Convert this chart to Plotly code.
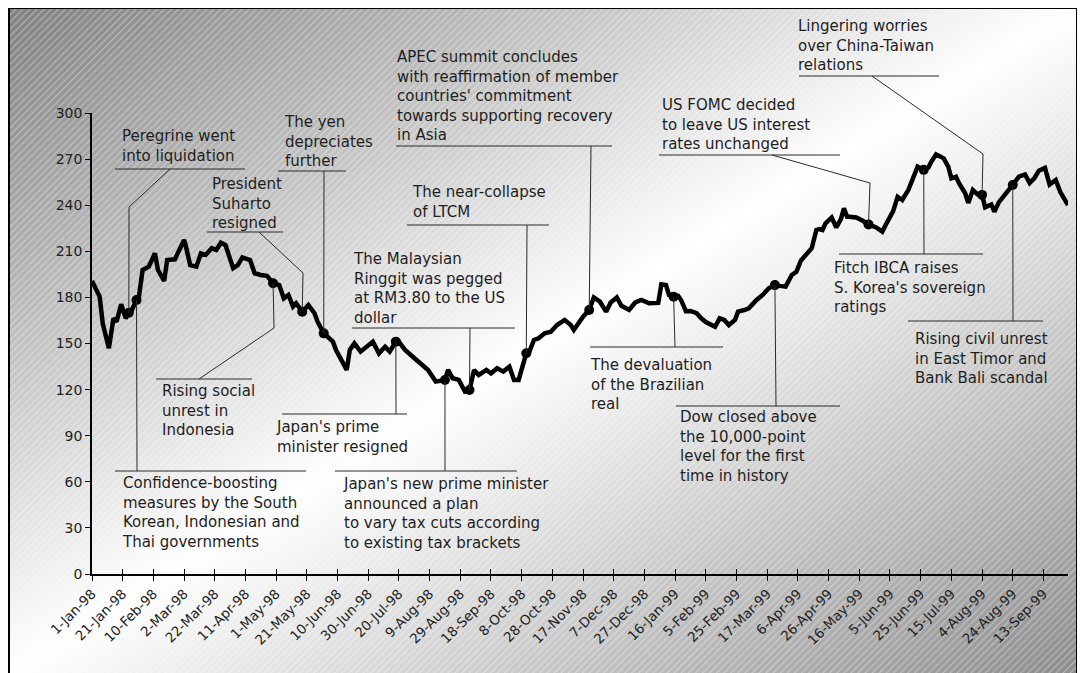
import base64
import plotly.graph_objects as go

# ---------------- data ----------------
# x = days since 1-Jan-98
day_offsets = [0, 5, 7, 11, 14, 16, 19, 22, 24, 26, 29, 30, 33, 37, 41, 43, 47, 49, 54, 57,
               60, 61, 64, 68, 71, 74, 78, 81, 84, 87, 92, 95, 98, 103, 106, 110, 114, 118, 122, 125,
               128, 131, 133, 137, 141, 145, 147, 151, 154, 157, 159, 166, 168, 171, 175, 179, 183, 187, 191, 194,
               198, 200, 204, 209, 214, 219, 224, 230, 232, 235, 239, 243, 246, 249, 252, 257, 260, 264, 268, 272,
               275, 278, 283, 285, 288, 291, 295, 299, 303, 308, 312, 314, 320, 324, 327, 331, 335, 338, 342, 345,
               350, 354, 358, 363, 369, 371, 374, 376, 379, 382, 384, 387, 390, 394, 397, 400, 406, 409, 412, 415,
               419, 421, 425, 428, 433, 437, 441, 445, 448, 452, 456, 459, 462, 465, 469, 472, 474, 476, 478, 482,
               485, 488, 490, 492, 498, 502, 506, 511, 515, 518, 522, 525, 528, 532, 535, 538, 542, 545, 547, 550,
               553, 555, 558, 560, 563, 565, 569, 571, 574, 577, 580, 582, 586, 588, 591, 594, 598, 600, 604, 608,
               611, 614, 617, 621, 624, 628, 631, 636]
index_values = [190.7, 180.5, 163.0, 146.9, 166.4, 164.2, 175.5, 166.4, 170.0, 171.8, 178.3, 176.4, 197.8, 200.0, 208.7, 197.8, 190.7, 204.3, 204.8, 212.0,
                217.4, 214.0, 201.0, 200.0, 208.7, 207.6, 212.0, 210.9, 215.6, 214.0, 199.0, 201.0, 206.0, 204.3, 195.7, 194.6, 194.0, 189.2, 188.0, 179.4,
                181.6, 174.0, 176.2, 170.7, 175.0, 169.7, 164.2, 156.6, 153.4, 151.2, 145.8, 132.8, 145.8, 150.1, 144.7, 147.9, 151.2, 143.6, 147.9, 144.7,
                151.2, 151.0, 145.8, 141.4, 137.1, 132.8, 125.2, 126.3, 132.8, 127.4, 126.3, 118.7, 119.7, 132.8, 129.5, 132.8, 130.6, 133.9, 131.7, 134.9,
                126.3, 126.3, 143.6, 144.7, 152.3, 153.4, 156.6, 157.7, 162.0, 165.3, 162.0, 158.8, 167.5, 171.8, 180.0, 177.2, 170.7, 176.7, 180.0, 174.5,
                171.8, 176.7, 178.3, 176.2, 176.4, 188.5, 188.0, 181.6, 180.5, 181.0, 178.0, 171.0, 171.2, 169.7, 166.4, 164.0, 160.9, 166.4, 165.3, 162.0,
                165.3, 170.7, 171.8, 172.9, 178.3, 181.6, 185.9, 188.0, 187.5, 187.0, 194.6, 196.7, 204.0, 207.5, 212.0, 223.9, 224.5, 223.9, 228.2, 232.0,
                225.5, 231.0, 238.0, 232.6, 232.0, 230.0, 227.5, 225.5, 222.8, 228.7, 236.0, 245.5, 243.4, 250.0, 258.6, 265.1, 263.0, 264.5, 268.4, 273.0,
                271.6, 270.5, 265.0, 257.5, 258.5, 254.3, 247.8, 241.5, 249.9, 247.0, 246.7, 238.6, 240.5, 235.8, 242.0, 245.5, 251.0, 253.2, 258.6, 260.0,
                254.5, 257.5, 262.4, 264.3, 253.5, 256.4, 248.5, 240.1]

tick_days = [0, 20, 40, 60, 80, 100, 120, 140, 160, 180, 200, 220, 240, 260, 280, 300,
             320, 340, 360, 380, 400, 420, 440, 460, 480, 500, 520, 540, 560, 580, 600, 620]
tick_labels = ["1-Jan-98", "21-Jan-98", "10-Feb-98", "2-Mar-98", "22-Mar-98", "11-Apr-98", "1-May-98",
               "21-May-98", "10-Jun-98", "30-Jun-98", "20-Jul-98", "9-Aug-98", "29-Aug-98", "18-Sep-98",
               "8-Oct-98", "28-Oct-98", "17-Nov-98", "7-Dec-98", "27-Dec-98", "16-Jan-99", "5-Feb-99",
               "25-Feb-99", "17-Mar-99", "6-Apr-99", "26-Apr-99", "16-May-99", "5-Jun-99", "25-Jun-99",
               "15-Jul-99", "4-Aug-99", "24-Aug-99", "13-Sep-99"]

# events: day offset and index value at the marker
event_days = [24, 29, 118, 137, 151, 198, 230, 246, 283, 324, 379, 445, 506, 542, 580, 600]
event_values = [170.0, 178.3, 189.2, 170.7, 156.6, 151.2, 126.3, 119.7, 143.6, 171.8, 180.5, 188.0, 227.5, 263.0, 246.7, 253.2]
event_texts = [
    "Peregrine went<br>into liquidation",
    "Confidence-boosting<br>measures by the South<br>Korean, Indonesian and<br>Thai governments",
    "Rising social<br>unrest in<br>Indonesia",
    "President<br>Suharto<br>resigned",
    "The yen<br>depreciates<br>further",
    "Japan's prime<br>minister resigned",
    "Japan's new prime minister<br>announced a plan<br>to vary tax cuts according<br>to existing tax brackets",
    "The Malaysian<br>Ringgit was pegged<br>at RM3.80 to the US<br>dollar",
    "The near-collapse<br>of LTCM",
    "APEC summit concludes<br>with reaffirmation of member<br>countries' commitment<br>towards supporting recovery<br>in Asia",
    "The devaluation<br>of the Brazilian<br>real",
    "Dow closed above<br>the 10,000-point<br>level for the first<br>time in history",
    "US FOMC decided<br>to leave US interest<br>rates unchanged",
    "Fitch IBCA raises<br>S. Korea's sovereign<br>ratings",
    "Lingering worries<br>over China-Taiwan<br>relations",
    "Rising civil unrest<br>in East Timor and<br>Bank Bali scandal",
]

# ---------------- layout geometry ----------------
# the page places the figure 8px in from the window corner; positions below are window pixels
OFF = 8
W, H = 1085 - OFF, 673 - OFF
AX_X0, AX_X1, AX_Y0, AX_Y1 = 92, 1068, 574, 113   # window pixels of the plot area
L = AX_X0 - OFF
R = W - (AX_X1 - OFF)
T = AX_Y1 - OFF
B = H - (AX_Y0 - OFF)
PW, PH = W - L - R, H - T - B
X_MAX, Y_MAX = 636, 300


def px_x(px):
    return (px - OFF - L) / PW


def px_y(py):
    return (H - B - (py - OFF)) / PH


# label placement: (left px, block-centre px, underline y, underline x0, x1, leader bend points)
label_layout = [
    (121, 146, 169, 115, 245, [(170, 169), (129, 207)]),
    (121, 512, 471, 115, 306, [(137, 471)]),
    (161, 410, 379, 156, 252, [(199, 379), (274, 328)]),
    (211, 203, 232, 207, 283, [(259, 232), (303, 273)]),
    (283, 141, 171, 278, 346, [(324, 171)]),
    (275, 437, 414, 282, 407, [(396, 414)]),
    (342, 513, 471, 335, 517, [(445, 471)]),
    (352, 288, 328, 352, 515, [(470, 328)]),
    (411, 202, 225, 407, 549, [(527, 225)]),
    (396, 96, 146, 396, 612, [(591, 146)]),
    (589, 384, 347, 590, 723, [(675, 347)]),
    (679, 446, 406, 676, 840, [(776, 406)]),
    (661, 124, 155, 659, 840, [(772, 155), (870, 183)]),
    (833, 287, 254, 839, 983, [(924, 254)]),
    (797, 46, 76, 799, 939, [(872, 76), (983, 154)]),
    (914, 358, 321, 908, 1043, [(1013, 321)]),
]

FONT = "DejaVu Sans, Verdana, sans-serif"
TXT = "#1e1e1e"

# ---------------- background (gradient + hatching) ----------------
FX0, FY0, FX1, FY1 = 9, 8, 1077, 673
bw, bh = FX1 - FX0, FY1 - FY0
svg = f'''<svg xmlns="http://www.w3.org/2000/svg" width="{bw}" height="{bh}" viewBox="0 0 {bw} {bh}">
<defs>
<linearGradient id="g" x1="0" y1="0" x2="1" y2="1">
<stop offset="0" stop-color="#808080"/>
<stop offset="0.5" stop-color="#ffffff"/>
<stop offset="1" stop-color="#8c8c8c"/>
</linearGradient>
<pattern id="h" width="5" height="5" patternUnits="userSpaceOnUse" patternTransform="rotate(45)">
<rect x="0" y="0" width="1.2" height="5" fill="#ffffff" fill-opacity="0.35"/>
</pattern>
</defs>
<rect width="{bw}" height="{bh}" fill="url(#g)"/>
<rect width="{bw}" height="{bh}" fill="url(#h)"/>
</svg>'''
bg_src = "data:image/svg+xml;base64," + base64.b64encode(svg.encode()).decode()

fig = go.Figure()
fig.add_trace(go.Scatter(x=day_offsets, y=index_values, mode="lines",
                         line=dict(color="black", width=4.5), hoverinfo="skip", showlegend=False))
fig.add_trace(go.Scatter(x=event_days, y=event_values, mode="markers",
                         marker=dict(color="black", size=10), hoverinfo="skip", showlegend=False))
# invisible trace to carry the inside-tick overlay axis
fig.add_trace(go.Scatter(x=[0], y=[None], xaxis="x2", mode="lines", showlegend=False, hoverinfo="skip"))

shapes = []
annotations = []
lc = dict(color="#2a2a2a", width=1)
for i, (lx, my, uy, ux0, ux1, bends) in enumerate(label_layout):
    annotations.append(dict(text=event_texts[i], xref="paper", yref="paper",
                            x=px_x(lx), y=px_y(my), xanchor="left", yanchor="middle",
                            align="left", showarrow=False, borderpad=0,
                            font=dict(family=FONT, size=15, color=TXT)))
    shapes.append(dict(type="line", xref="paper", yref="paper",
                       x0=px_x(ux0), x1=px_x(ux1), y0=px_y(uy), y1=px_y(uy), line=lc))
    pts = [(px_x(a), px_y(b)) for a, b in bends]
    pts.append((event_days[i] / X_MAX, event_values[i] / Y_MAX))
    for (xa, ya), (xb, yb) in zip(pts[:-1], pts[1:]):
        shapes.append(dict(type="line", xref="paper", yref="paper",
                           x0=xa, y0=ya, x1=xb, y1=yb, line=lc))

# outer frame
frame = dict(color="black", width=2)
shapes.append(dict(type="line", xref="paper", yref="paper", x0=px_x(FX0), x1=px_x(FX0),
                   y0=px_y(FY0), y1=px_y(680), line=frame))
shapes.append(dict(type="line", xref="paper", yref="paper", x0=px_x(FX0), x1=px_x(FX1),
                   y0=px_y(FY0), y1=px_y(FY0), line=frame))
shapes.append(dict(type="line", xref="paper", yref="paper", x0=px_x(FX1), x1=px_x(FX1),
                   y0=px_y(FY0), y1=px_y(680), line=frame))

fig.update_layout(
    width=W, height=H,
    margin=dict(l=L, r=R, t=T, b=B, pad=0),
    paper_bgcolor="white", plot_bgcolor="rgba(0,0,0,0)",
    font=dict(family=FONT, color=TXT),
    images=[dict(source=bg_src, xref="paper", yref="paper",
                 x=px_x(FX0), y=px_y(FY0), sizex=bw / PW, sizey=bh / PH,
                 xanchor="left", yanchor="top", sizing="stretch", layer="below")],
    shapes=shapes,
    annotations=annotations,
    xaxis=dict(range=[0, X_MAX], tickmode="array", tickvals=tick_days, ticktext=tick_labels,
               tickangle=-45, ticks="outside", ticklen=5, tickcolor="black", tickwidth=1,
               showline=True, linecolor="black", linewidth=1.5, showgrid=False, zeroline=False,
               tickfont=dict(family=FONT, size=13.5, color=TXT)),
    xaxis2=dict(range=[0, X_MAX], overlaying="x", anchor="y", side="bottom",
                tickmode="array", tickvals=tick_days, ticks="inside", ticklen=5,
                tickcolor="black", tickwidth=1, showticklabels=False, showline=False,
                showgrid=False, zeroline=False),
    yaxis=dict(range=[0, Y_MAX], tickmode="linear", tick0=0, dtick=30,
               ticks="outside", ticklen=5, tickcolor="black", tickwidth=1,
               showline=True, linecolor="black", linewidth=1.5, showgrid=False, zeroline=False,
               tickfont=dict(family=FONT, size=14, color=TXT)),
)

fig.write_html("out.html")
